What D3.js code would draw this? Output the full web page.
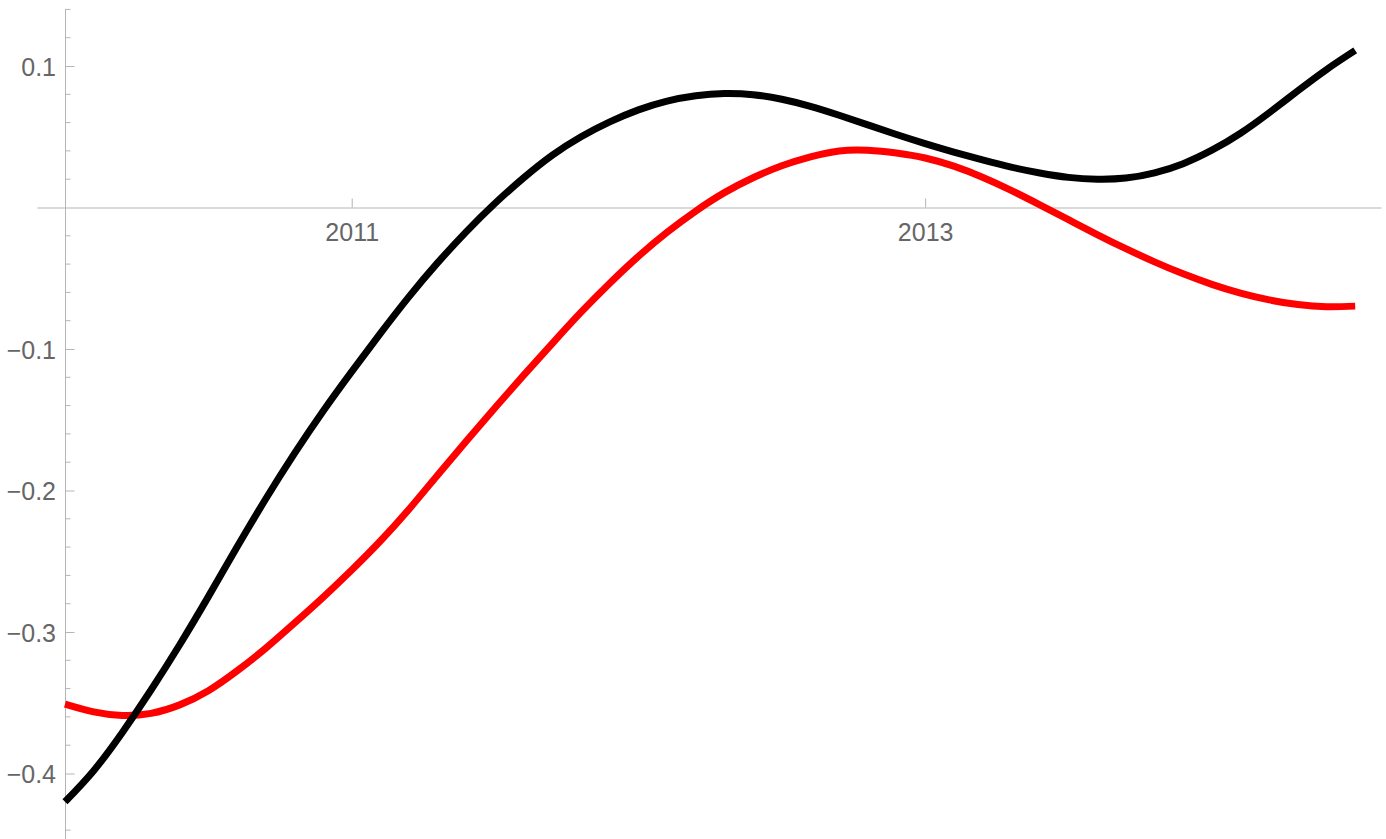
<!DOCTYPE html>
<html>
<head>
<meta charset="utf-8">
<script src="https://cdn.jsdelivr.net/npm/d3@7"></script>
<style>
  html, body { margin: 0; padding: 0; background: #fff; }
  svg { display: block; }
  .tick text { font-family: "Liberation Sans", Arial, sans-serif; font-size: 25px; fill: #666; }
</style>
</head>
<body>
<svg id="chart" width="1386" height="839"></svg>
<script>
// Sample years (x values shared by both series)
const years = [
  2010.0, 2010.1, 2010.2, 2010.3, 2010.4, 2010.5, 2010.6, 2010.7, 2010.8, 2010.9,
  2011.0, 2011.1, 2011.2, 2011.3, 2011.4, 2011.5, 2011.6, 2011.7, 2011.8, 2011.9,
  2012.0, 2012.1, 2012.2, 2012.3, 2012.4, 2012.5, 2012.6, 2012.7, 2012.8, 2012.9,
  2013.0, 2013.1, 2013.2, 2013.3, 2013.4, 2013.5, 2013.6, 2013.7, 2013.8, 2013.9,
  2014.0, 2014.1, 2014.2, 2014.3, 2014.4, 2014.5
];

// Black series
const blackValues = [
  -0.420, -0.398, -0.371, -0.341, -0.309, -0.275, -0.240, -0.206, -0.174, -0.144,
  -0.116, -0.089, -0.063, -0.039, -0.017,  0.003,  0.021,  0.037,  0.050,  0.0605,
   0.069,  0.0752, 0.079,  0.0805, 0.0797, 0.0765, 0.0715, 0.0652, 0.0584, 0.0516,
   0.0452, 0.0392, 0.0336, 0.0285, 0.0244, 0.0213, 0.0200, 0.0208, 0.0245, 0.031,
   0.0405, 0.0525, 0.067,  0.0825, 0.0975, 0.111
];

// Red series
const redValues = [
  -0.351, -0.3565, -0.359, -0.3575, -0.3515, -0.3415, -0.3275, -0.3115, -0.2938, -0.2755,
  -0.2562, -0.2357, -0.2132, -0.189, -0.165, -0.1415, -0.1185, -0.096, -0.074, -0.0535,
  -0.0345, -0.0175, -0.0025, 0.0105, 0.021, 0.0295, 0.0358, 0.040,  0.0405, 0.0385,
   0.035,  0.0292, 0.0214, 0.0121, 0.0019, -0.0086, -0.0191, -0.0291, -0.0384, -0.0469,
  -0.0543, -0.0605, -0.0653, -0.0686, -0.0701, -0.0697
];

// Axis ticks
const xMajorTicks = [2011, 2013];
const yMajorTicks = [0.1, -0.1, -0.2, -0.3, -0.4];
const yMinorTicks = [0.14, 0.12, 0.08, 0.06, 0.04, 0.02,
  -0.02, -0.04, -0.06, -0.08, -0.12, -0.14, -0.16, -0.18,
  -0.22, -0.24, -0.26, -0.28, -0.32, -0.34, -0.36, -0.38, -0.42, -0.44];

const svg = d3.select("#chart");
const axisColor = "#b5b5b5";

const x = d3.scaleLinear().domain([2010, 2014.5]).range([65, 1355.2]);
const y = d3.scaleLinear().domain([-0.4, 0.1]).range([773.5, 66]);

// Axis scales cover the full plot range
const xAxisScale = x.copy().domain([2009.902, 2014.59]).range([x(2009.902), x(2014.59)]);
const yAxisScale = y.copy().domain([-0.46, 0.14]).range([y(-0.46), y(0.14)]);

// Minor ticks on the vertical axis
svg.append("g")
  .selectAll("line")
  .data(yMinorTicks)
  .join("line")
  .attr("x1", x(2010)).attr("x2", x(2010) + 5.5)
  .attr("y1", d => y(d)).attr("y2", d => y(d))
  .attr("stroke", axisColor).attr("stroke-width", 1);

// Horizontal axis through zero
const gx = svg.append("g")
  .attr("transform", `translate(0,${y(0)})`)
  .call(d3.axisBottom(xAxisScale)
    .tickValues(xMajorTicks)
    .tickFormat(d3.format("d"))
    .tickSizeInner(-9)
    .tickSizeOuter(0)
    .tickPadding(0));

// Vertical axis at the first year
const gy = svg.append("g")
  .attr("transform", `translate(${x(2010)},0)`)
  .call(d3.axisLeft(yAxisScale)
    .tickValues(yMajorTicks)
    .tickFormat(d => d3.format(".1f")(d).replace("-", "\u2212"))
    .tickSizeInner(-9.5)
    .tickSizeOuter(0)
    .tickPadding(9));

[gx, gy].forEach(g => {
  g.select(".domain").attr("stroke", axisColor).attr("stroke-width", 1);
  g.selectAll(".tick line").attr("stroke", axisColor).attr("stroke-width", 1);
  g.selectAll(".tick text").attr("fill", "#666");
});
gx.selectAll(".tick text").attr("y", 33).attr("dy", null);
gy.selectAll(".tick text").attr("dy", "0.36em");

const line = d3.line()
  .x(d => x(d[0]))
  .y(d => y(d[1]))
  .curve(d3.curveNatural);

const series = [
  { values: redValues, color: "#ff0000" },
  { values: blackValues, color: "#000000" }
];

svg.append("g")
  .selectAll("path")
  .data(series)
  .join("path")
  .attr("d", s => line(years.map((yr, i) => [yr, s.values[i]])))
  .attr("fill", "none")
  .attr("stroke", s => s.color)
  .attr("stroke-width", 7)
  .attr("stroke-linecap", "butt")
  .attr("stroke-linejoin", "round");
</script>
</body>
</html>
